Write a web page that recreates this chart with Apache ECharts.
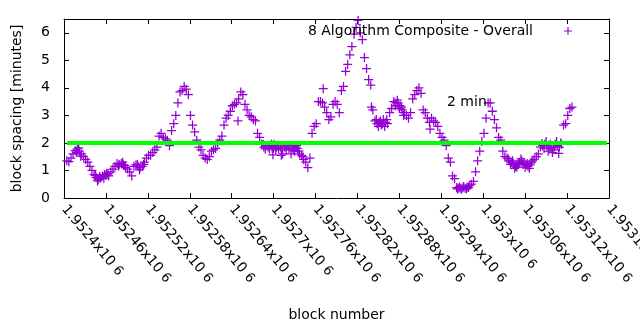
<!DOCTYPE html>
<html>
<head>
<meta charset="utf-8">
<script src="https://cdn.jsdelivr.net/npm/echarts@6/dist/echarts.min.js"></script>
<style>
  html, body { margin: 0; padding: 0; background: #ffffff; }
  #chart { width: 640px; height: 330px; }
</style>
</head>
<body>
<div id="chart"></div>
<script>
// Block spacing (minutes) per block, 8-algorithm composite
const overallPoints = [
  [1952404,1.35],[1952407,1.32],[1952410,1.45],[1952413,1.6],[1952416,1.72],[1952419,1.78],[1952422,1.7],[1952425,1.6],[1952428,1.5],[1952431,1.4],
  [1952434,1.3],[1952437,1.15],[1952440,1.0],[1952443,0.85],[1952446,0.75],[1952449,0.68],[1952452,0.72],[1952455,0.8],[1952458,0.85],[1952461,0.9],
  [1952464,0.8],[1952467,0.95],[1952470,1.05],[1952473,1.15],[1952476,1.25],[1952479,1.22],[1952482,1.25],[1952485,1.2],[1952488,1.1],[1952491,1.05],
  [1952494,0.95],[1952497,0.8],[1952500,1.15],[1952503,1.2],[1952506,1.15],[1952509,1.1],[1952512,1.15],[1952515,1.3],[1952518,1.45],[1952521,1.55],
  [1952524,1.55],[1952527,1.65],[1952530,1.75],[1952533,1.85],[1952536,2.25],[1952539,2.35],[1952542,2.2],[1952545,2.15],[1952548,2.1],[1952551,1.9],
  [1952554,2.45],[1952557,2.7],[1952560,3.0],[1952563,3.45],[1952566,3.85],[1952569,3.9],[1952572,4.05],[1952575,3.95],[1952578,3.75],[1952581,3.0],
  [1952584,2.65],[1952587,2.4],[1952590,2.1],[1952593,1.85],[1952596,1.75],[1952599,1.55],[1952602,1.45],[1952605,1.4],[1952608,1.5],[1952611,1.7],
  [1952614,1.75],[1952617,1.8],[1952620,2.0],[1952623,2.1],[1952626,2.25],[1952629,2.65],[1952632,2.9],[1952635,3.0],[1952638,3.15],[1952641,3.35],
  [1952644,3.4],[1952647,3.45],[1952650,3.6],[1952653,3.85],[1952656,3.75],[1952659,3.4],[1952662,3.2],[1952665,3.0],[1952668,2.95],[1952671,2.85],
  [1952674,2.8],[1952677,2.35],[1952680,2.2],[1952683,1.95],[1952686,1.85],[1952689,1.9],[1952692,1.85],[1952695,1.9],[1952698,1.8],[1952701,1.95],
  [1952704,1.85],[1952707,1.8],[1952710,1.85],[1952713,1.6],[1952716,1.85],[1952719,1.9],[1952722,1.8],[1952725,1.6],[1952728,1.75],[1952731,1.85],
  [1952734,1.8],[1952737,1.6],[1952740,1.55],[1952743,1.4],[1952746,1.3],[1952749,1.1],[1952752,1.45],[1952755,2.35],[1952758,2.6],[1952761,2.7],
  [1952764,3.5],[1952767,3.5],[1952770,3.45],[1952773,3.3],[1952776,3.1],[1952779,2.85],[1952782,2.95],[1952785,3.4],[1952788,3.5],[1952791,3.4],
  [1952794,3.1],[1952797,3.9],[1952800,4.05],[1952803,4.6],[1952806,4.85],[1952809,5.2],[1952812,5.5],[1952815,5.95],[1952818,6.2],[1952821,6.45],
  [1952824,6.0],[1952827,5.75],[1952830,5.1],[1952833,4.7],[1952836,4.3],[1952839,4.1],[1952842,3.2],[1952845,2.8],[1952848,2.7],[1952851,2.75],
  [1952854,2.65],[1952857,2.85],[1952860,2.75],[1952863,2.7],[1952866,3.1],[1952869,3.25],[1952872,3.5],[1952875,3.45],[1952878,3.45],[1952881,3.35],
  [1952884,3.2],[1952887,3.1],[1952890,3.0],[1952893,2.9],[1952896,3.1],[1952899,3.6],[1952902,3.75],[1952905,3.9],[1952908,4.0],[1952911,3.8],
  [1952914,3.2],[1952917,3.1],[1952920,2.9],[1952923,2.75],[1952926,2.9],[1952929,2.8],[1952932,2.75],[1952935,2.6],[1952938,2.35],[1952941,2.2],
  [1952944,2.1],[1952947,1.9],[1952950,1.45],[1952953,1.3],[1952956,0.8],[1952959,0.7],[1952962,0.38],[1952965,0.35],[1952968,0.35],[1952971,0.37],
  [1952974,0.35],[1952977,0.4],[1952980,0.45],[1952983,0.5],[1952986,0.6],[1952989,0.95],[1952992,1.35],[1952995,1.7],[1952998,2.05],[1953001,2.35],
  [1953004,2.9],[1953007,3.45],[1953010,3.45],[1953013,3.15],[1953016,2.85],[1953019,2.55],[1953022,2.2],[1953025,2.1],[1953028,1.7],[1953031,1.5],
  [1953034,1.45],[1953037,1.35],[1953040,1.3],[1953043,1.25],[1953046,1.15],[1953049,1.2],[1953052,1.3],[1953055,1.35],[1953058,1.3],[1953061,1.2],
  [1953064,1.15],[1953067,1.2],[1953070,1.35],[1953073,1.4],[1953076,1.5],[1953079,1.6],[1953082,1.85],[1953085,1.9],[1953088,1.95],[1953091,1.9],
  [1953094,1.8],[1953097,1.85],[1953100,1.75],[1953103,1.95],[1953106,1.9],[1953109,1.85],[1953112,1.95],[1953115,2.65],[1953118,2.7],[1953121,3.0],
  [1953124,3.25],[1953127,3.3],
  // scatter around the main trend
  [1952418,1.65],[1952421,1.82],[1952424,1.52],[1952445,0.82],[1952448,0.62],[1952451,0.78],[1952457,0.72],[1952460,0.82],[1952463,0.88],
  [1952478,1.15],[1952484,1.3],[1952487,1.18],[1952505,1.22],[1952508,1.02],[1952514,1.22],
  [1952649,2.8],[1952685,1.95],[1952688,1.78],[1952694,1.78],[1952697,1.95],[1952699,1.57],[1952700,1.82],[1952703,1.75],[1952706,1.92],
  [1952711,1.55],[1952712,1.78],[1952718,1.75],[1952721,1.9],[1952727,1.85],[1952730,1.7],[1952733,1.9],[1952736,1.7],[1952742,1.5],
  [1952771,3.97],[1952840,3.3],[1952847,2.85],[1952850,2.6],[1952853,2.8],[1952856,2.7],[1952859,2.6],[1952862,2.85],
  [1952874,3.35],[1952877,3.55],[1952880,3.25],[1952883,3.3],[1952886,3.0],[1952924,2.5],
  [1952963,0.33],[1952966,0.4],[1952969,0.32],[1952972,0.42],[1952976,0.33],[1952979,0.38],
  [1953036,1.42],[1953039,1.22],[1953042,1.35],[1953045,1.08],[1953048,1.12],[1953051,1.25],[1953054,1.42],[1953057,1.22],[1953060,1.12],
  [1953063,1.25],[1953066,1.08],[1953069,1.3],
  [1953084,1.98],[1953087,1.8],[1953090,2.05],[1953093,1.7],[1953096,1.95],[1953099,1.65],[1953102,1.85],[1953105,2.05],[1953108,1.62],[1953111,2.0]
];

// 2-minute target line
const targetBlocks = [1952404, 1953177];
const targetMinutes = 2;

// Axis ranges
const xRange = { min: 1952400, max: 1953180, step: 60 };
const yRange = { min: 0, max: 6.5, step: 1 };

const seriesName = '8 Algorithm Composite - Overall';
const targetLabel = '2 min';
const xName = 'block number';
const yName = 'block spacing [minutes]';

const FONT = 'DejaVu Sans';
const INK = '#000000';
const PURPLE = '#9400d3';
const GREEN = '#00ff00';
const PLUS = 'path://M4.3,0H5.7V4.3H10V5.7H5.7V10H4.3V5.7H0V4.3H4.3Z';

const chart = echarts.init(document.getElementById('chart'), null, { renderer: 'canvas' });

const frameAxis = {
  axisLine: { show: true, onZero: false, lineStyle: { color: INK, width: 1 } },
  axisTick: { show: true, inside: true, length: 5, lineStyle: { color: INK, width: 1 } },
  splitLine: { show: false }
};

chart.setOption({
  animation: false,
  backgroundColor: '#ffffff',
  textStyle: { fontFamily: FONT },
  grid: { left: 64, top: 19, width: 545, height: 179, containLabel: false, outerBoundsMode: 'none' },
  legend: {
    show: true,
    data: [{ name: seriesName, icon: PLUS }],
    right: 68,
    top: 24,
    padding: 0,
    align: 'right',
    itemWidth: 8,
    itemHeight: 8,
    textStyle: { fontFamily: FONT, fontSize: 14, color: INK, padding: [0, 26, 0, 0] },
    selectedMode: false
  },
  xAxis: [
    Object.assign({
      type: 'value', position: 'bottom',
      min: xRange.min, max: xRange.max, interval: xRange.step,
      name: xName, nameLocation: 'middle', nameGap: 110,
      nameTextStyle: { fontFamily: FONT, fontSize: 14, color: INK },
      axisLabel: {
        show: true, rotate: -50, margin: 9,
        fontFamily: FONT, fontSize: 14, color: INK,
        showMaxLabel: true, showMinLabel: true, hideOverlap: false,
        formatter: v => `${+(v / 1e6).toFixed(6)}x10 {e|6}`,
        rich: { e: { fontFamily: FONT, fontSize: 13, color: INK } }
      }
    }, frameAxis),
    Object.assign({
      type: 'value', position: 'top',
      min: xRange.min, max: xRange.max, interval: xRange.step,
      axisLabel: { show: false }
    }, frameAxis)
  ],
  yAxis: [
    Object.assign({
      type: 'value', position: 'left',
      min: yRange.min, max: yRange.max, interval: yRange.step,
      name: yName, nameLocation: 'middle', nameGap: 40, nameRotate: 90,
      nameTextStyle: { fontFamily: FONT, fontSize: 14, color: INK },
      axisLabel: { show: true, margin: 14, fontFamily: FONT, fontSize: 14, color: INK, showMaxLabel: false }
    }, frameAxis),
    Object.assign({
      type: 'value', position: 'right',
      min: yRange.min, max: yRange.max, interval: yRange.step,
      axisLabel: { show: false }
    }, frameAxis)
  ],
  series: [
    {
      name: seriesName,
      type: 'scatter',
      xAxisIndex: 0, yAxisIndex: 0,
      symbol: PLUS,
      symbolSize: 9,
      itemStyle: { color: PURPLE, opacity: 1 },
      emphasis: { disabled: true },
      data: overallPoints,
      z: 2
    },
    {
      name: targetLabel,
      type: 'line',
      xAxisIndex: 0, yAxisIndex: 0,
      showSymbol: false,
      lineStyle: { color: GREEN, width: 4, cap: 'butt' },
      emphasis: { disabled: true },
      data: targetBlocks.map(b => [b, targetMinutes]),
      z: 3
    }
  ],
  graphic: [
    {
      type: 'text', left: 447, top: 95, z: 10,
      style: { text: targetLabel, fontFamily: FONT, fontSize: 14, fill: INK }
    }
  ]
});
</script>
</body>
</html>
